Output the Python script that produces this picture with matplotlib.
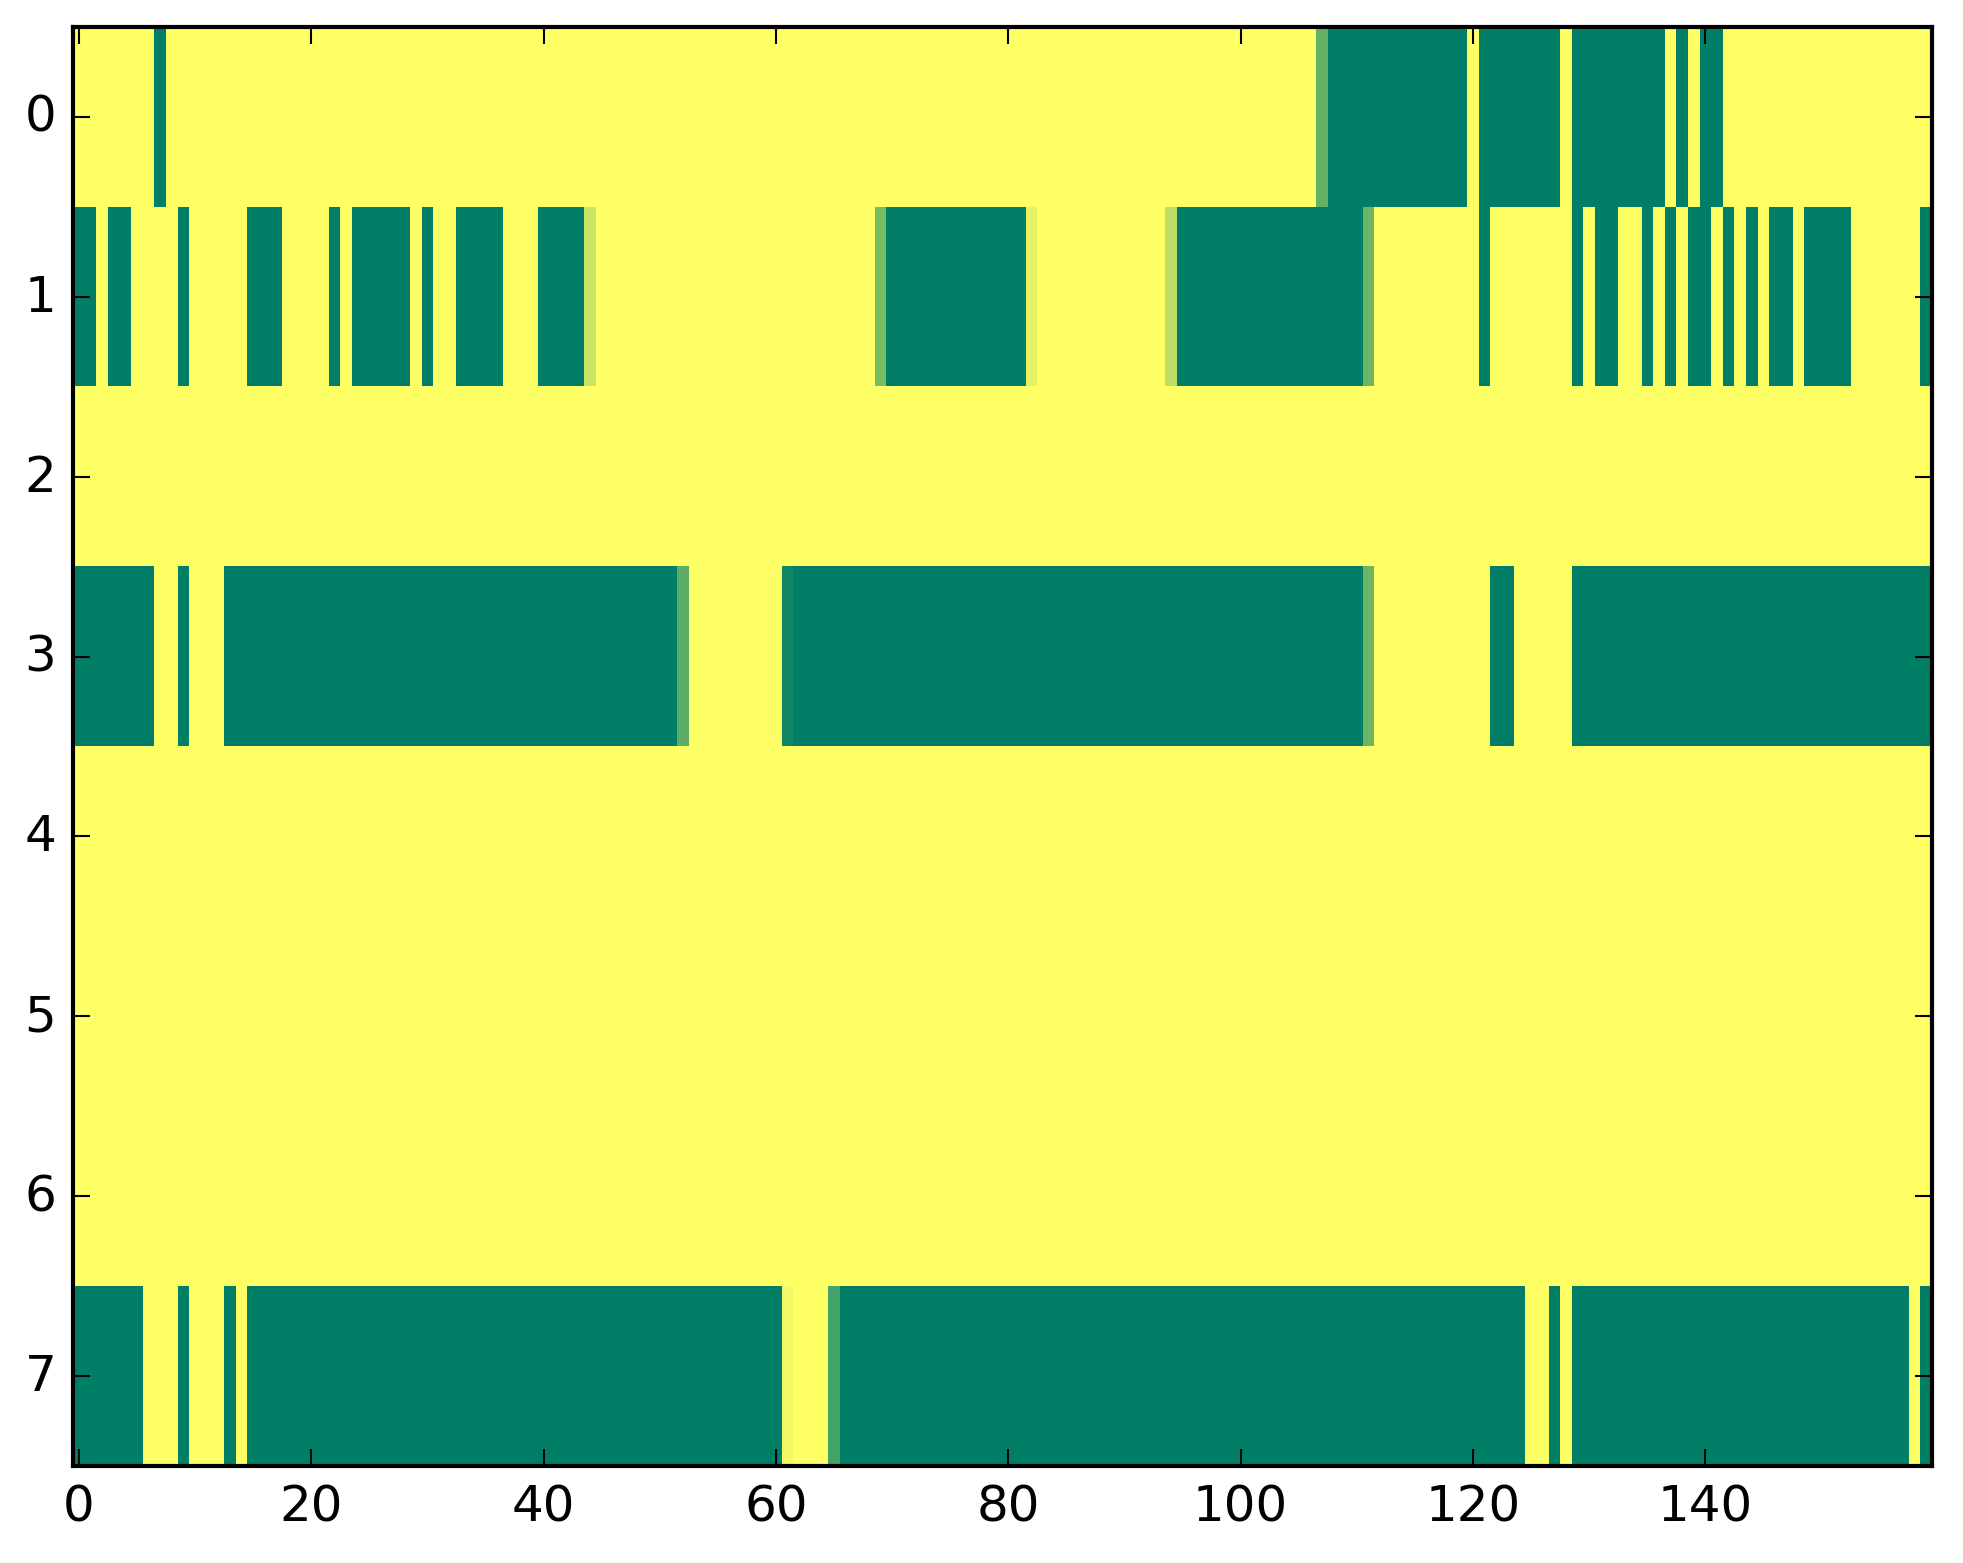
import matplotlib
matplotlib.use('Agg')
import matplotlib.pyplot as plt
import numpy as np

n_rows = 8
n_cols = 160

# green (value 0) column spans per row, inclusive; everything else is yellow (1)
green_spans = {
    0: [(7, 7), (108, 119), (121, 127), (129, 136), (138, 138), (140, 141)],
    1: [(0, 1), (3, 4), (9, 9), (15, 17), (22, 22), (24, 28), (30, 30),
        (33, 36), (40, 43), (70, 81), (95, 110), (121, 121), (129, 129),
        (131, 132), (135, 135), (137, 137), (139, 140), (142, 142),
        (144, 144), (146, 147), (149, 152), (159, 159)],
    2: [],
    3: [(0, 6), (9, 9), (13, 51), (62, 110), (122, 123), (129, 159)],
    4: [],
    5: [],
    6: [],
    7: [(0, 5), (9, 9), (13, 13), (15, 60), (66, 124), (127, 127),
        (129, 157), (159, 159)],
}

# cells with in-between shades
partial_cells = {
    (0, 107): 0.39,
    (1, 44): 0.80,
    (1, 69): 0.48,
    (1, 82): 0.90,
    (1, 94): 0.75,
    (1, 111): 0.42,
    (3, 52): 0.36,
    (3, 61): 0.06,
    (3, 111): 0.42,
    (7, 61): 0.95,
    (7, 65): 0.27,
}

data = np.ones((n_rows, n_cols))
for r, spans in green_spans.items():
    for a, b in spans:
        data[r, a:b + 1] = 0.0
for (r, c), v in partial_cells.items():
    data[r, c] = v

plt.style.use('classic')
W, H = 1963, 1564
fig = plt.figure(figsize=(W / 300, H / 300), dpi=300)
ax = fig.add_axes([73 / W, 97 / H, 1859 / W, 1439 / H])

ax.imshow(data, cmap='summer', aspect='auto', interpolation='nearest',
          vmin=0, vmax=1)
ax.set_xticks(np.arange(0, 141, 20))
ax.set_yticks(np.arange(0, 8))

fig.savefig('out.png', dpi=300)
